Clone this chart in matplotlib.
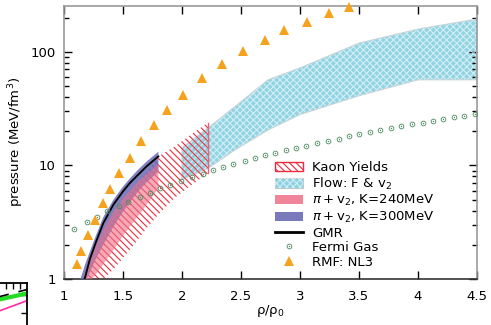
import matplotlib
matplotlib.use("Agg")
import matplotlib.pyplot as plt
from matplotlib.patches import Patch
from matplotlib.lines import Line2D

plt.rcParams['font.family'] = ['DejaVu Sans']
plt.rcParams['hatch.linewidth'] = 0.8

# ---- data -------------------------------------------------------------
# RMF: NL3
rmf_x = [1.108, 1.144, 1.203, 1.26, 1.328, 1.39, 1.469, 1.559, 1.655, 1.763,
         1.87, 2.006, 2.167, 2.342, 2.517, 2.70, 2.867, 3.059, 3.25, 3.418]
rmf_y = [1.35, 1.77, 2.44, 3.31, 4.67, 6.21, 8.64, 11.57, 16.4, 22.7,
         30.4, 41.8, 58.2, 78.0, 100.7, 126.0, 154.0, 183.0, 219.0, 250.0]

# Fermi gas
fermi_x = [1.087, 1.197, 1.282, 1.364, 1.469, 1.540, 1.644, 1.729, 1.816, 1.901,
           1.994, 2.085, 2.181, 2.260, 2.350, 2.435, 2.534, 2.619, 2.706, 2.786,
           2.881, 2.964, 3.053, 3.147, 3.237, 3.328, 3.415, 3.503, 3.593, 3.680,
           3.769, 3.853, 3.952, 4.042, 4.125, 4.215, 4.303, 4.390, 4.481]
fermi_y = [2.76, 3.18, 3.52, 3.95, 4.40, 4.80, 5.31, 5.76, 6.33, 6.78,
           7.30, 7.87, 8.47, 9.07, 9.70, 10.25, 11.0, 11.7, 12.3, 12.9,
           13.6, 14.3, 14.9, 15.7, 16.3, 17.1, 18.0, 18.8, 19.6, 20.5,
           21.3, 22.1, 23.0, 23.8, 24.7, 25.7, 26.5, 27.3, 28.3]

# Kaon yields band
kaon_x = [1.19, 1.25, 1.333, 1.42, 1.50, 1.60, 1.70, 1.80, 1.94, 2.08, 2.22]
kaon_hi = [1.0, 1.4, 2.2, 3.3, 4.6, 6.4, 8.6, 12.0, 14.7, 18.8, 23.8]
kaon_lo = [0.8, 0.9, 1.0, 1.22, 1.53, 2.05, 2.8, 3.7, 5.2, 6.7, 8.5]

# Flow: F & v2 band
flow_x = [2.0, 2.22, 2.45, 2.73, 3.0, 3.5, 4.0, 4.5]
flow_hi = [14.3, 21.3, 33.0, 56.6, 72.0, 119.0, 158.0, 194.0]
flow_lo = [7.5, 9.4, 13.7, 20.5, 28.0, 41.0, 56.6, 56.6]

# pi + v2, K=240MeV
k240_x = [1.17, 1.22, 1.27, 1.333, 1.42, 1.50, 1.56, 1.63, 1.70, 1.80]
k240_hi = [1.05, 1.45, 1.95, 2.7, 3.9, 5.1, 6.0, 7.2, 8.4, 10.3]
k240_lo = [0.8, 0.95, 1.1, 1.35, 1.8, 2.4, 2.9, 3.6, 4.5, 6.3]

# pi + v2, K=300MeV
k300_x = [1.14, 1.18, 1.22, 1.27, 1.333, 1.42, 1.50, 1.56, 1.63, 1.70, 1.80]
k300_hi = [1.0, 1.35, 1.75, 2.4, 3.5, 5.0, 6.5, 7.7, 9.2, 10.8, 13.2]
k300_lo = [0.85, 0.95, 1.15, 1.5, 2.0, 2.9, 3.9, 4.8, 5.9, 7.1, 8.8]

# GMR
gmr_x = [1.175, 1.22, 1.27, 1.333, 1.418, 1.50, 1.559, 1.63, 1.70, 1.80]
gmr_y = [1.0, 1.5, 2.1, 3.1, 4.5, 5.9, 7.0, 8.3, 9.8, 12.0]

# small neighbouring panel
side_x = [0, 10]
side_green = [1.24, 2.09]
side_magenta = [0.27, 1.69]
side_black = [1.31, 2.30]

x_ticks = [1, 1.5, 2, 2.5, 3, 3.5, 4, 4.5]
x_ticklabels = ['1', '1.5', '2', '2.5', '3', '3.5', '4', '4.5']
y_ticks = [1, 10, 100]
y_ticklabels = ['1', '10', '100']

# ---- colours ----------------------------------------------------------
c_kaon = '#ee2a3c'
c_flow = '#8ad2e2'
c_pink = '#ee7088'
c_blue = '#6a6ab4'
c_rmf = '#f5a21f'
c_fermi = '#4a8a5e'

fig = plt.figure(figsize=(4.91, 3.25), dpi=100)
ax = fig.add_axes([0.1303, 0.1415, 0.8412, 0.8415])
ax.set_yscale('log')

# kaon yields: hatched band
ax.fill_between(kaon_x, kaon_lo, kaon_hi, facecolor='none', edgecolor=c_kaon,
                hatch='\\\\\\\\\\', linewidth=0, zorder=2)
ax.plot([kaon_x[-1], kaon_x[-1]], [kaon_lo[-1], kaon_hi[-1]], color='#e8607a',
        lw=1.0, zorder=2)

# flow band
ax.fill_between(flow_x, flow_lo, flow_hi, facecolor=c_flow, edgecolor='none',
                alpha=0.95, zorder=1.5)
ax.fill_between(flow_x, flow_lo, flow_hi, facecolor='none', edgecolor='white',
                hatch='xxxxx', linewidth=0, alpha=0.6, zorder=1.6)
ax.fill_between(flow_x, flow_lo, flow_hi, facecolor='none', edgecolor='#c8d4d8',
                linewidth=0.8, zorder=1.7)

# pion + v2 bands
ax.fill_between(k300_x, k300_lo, k300_hi, facecolor=c_blue, edgecolor='none',
                alpha=0.85, zorder=3)
ax.fill_between(k240_x, k240_lo, k240_hi, facecolor=c_pink, edgecolor='none',
                alpha=0.6, zorder=3.2)

# GMR
ax.plot(gmr_x, gmr_y, color='black', lw=1.3, zorder=4)

# Fermi gas
ax.plot(fermi_x, fermi_y, ls='none', marker='o', ms=3.4, mfc='none',
        mec=c_fermi, mew=0.6, zorder=5)
ax.plot(fermi_x, fermi_y, ls='none', marker='o', ms=1.0, mfc=c_fermi,
        mec=c_fermi, mew=0, zorder=5)

# RMF NL3
ax.plot(rmf_x, rmf_y, ls='none', marker='^', ms=7, color=c_rmf, mew=0,
        zorder=5, clip_on=False)

ax.set_xlim(1, 4.5)
ax.set_ylim(1, 255)
ax.set_xticks(x_ticks)
ax.set_xticklabels(x_ticklabels)
ax.set_yticks(y_ticks)
ax.set_yticklabels(y_ticklabels)
ax.tick_params(axis='both', which='major', direction='in', length=6, width=1,
               top=True, right=True, labelsize=9.5)
ax.tick_params(axis='y', which='major', pad=6)
ax.tick_params(axis='x', which='major', pad=8)
ax.tick_params(axis='y', which='minor', direction='in', length=3.5, width=1,
               right=True, labelleft=False)
for side in ('left', 'top', 'right'):
    ax.spines[side].set_color('#999999')
ax.spines['bottom'].set_color('#333333')
for s in ax.spines.values():
    s.set_linewidth(1.2)

ax.set_xlabel('ρ/ρ$_0$', fontsize=9.5, labelpad=0)
ax.set_ylabel(r'pressure (MeV/fm$^3$)', fontsize=9.5, labelpad=3)

# legend
h_kaon = Patch(facecolor='white', edgecolor=c_kaon, hatch='\\\\\\\\\\', lw=1.0)
h_flow = (Patch(facecolor=c_flow, edgecolor='#c0c8cc', lw=0.8),
          Patch(facecolor='none', edgecolor='white', hatch='xxxxx', lw=0, alpha=0.6))
h_240 = Patch(facecolor=c_pink, edgecolor='none', alpha=0.85)
h_300 = Patch(facecolor=c_blue, edgecolor='none', alpha=0.9)
h_gmr = Line2D([], [], color='black', lw=2)
h_fermi = (Line2D([], [], ls='none', marker='o', ms=3.4, mfc='none', mec=c_fermi, mew=0.6),
           Line2D([], [], ls='none', marker='o', ms=1.0, mfc=c_fermi, mec=c_fermi, mew=0))
h_rmf = Line2D([], [], ls='none', marker='^', ms=7, color=c_rmf, mew=0)
labels = ['Kaon Yields', r'Flow: F & v$_2$', r'$\pi + $v$_2$, K=240MeV',
          r'$\pi + $v$_2$, K=300MeV', 'GMR', 'Fermi Gas', 'RMF: NL3']
leg = ax.legend([h_kaon, h_flow, h_240, h_300, h_gmr, h_fermi, h_rmf], labels,
                loc='upper left', bbox_to_anchor=(275 / 491, 1 - 161 / 325),
                bbox_transform=fig.transFigure, frameon=False, fontsize=9.5,
                borderpad=0, borderaxespad=0, handlelength=2.1, handleheight=0.75,
                handletextpad=0.7, labelspacing=0.12)

# neighbouring panel peeking in at the lower left
ax2 = fig.add_axes([-43 / 491, -0.0203, 70 / 491, (331.6 - 283.3) / 325])
ax2.set_xlim(0, 10)
ax2.set_ylim(0, 2.64)
ax2.plot(side_x, side_green, color='#22dd22', lw=3, solid_capstyle='butt')
ax2.plot(side_x, side_magenta, color='#ff2aa6', lw=1.2)
ax2.plot(side_x, side_black, color='black', lw=1.2, ls=(0, (6, 6)))
ax2.set_xticks([7, 8, 9])
ax2.set_yticks([1, 2])
ax2.tick_params(direction='in', length=4, width=1, top=True, right=True,
                bottom=False, left=False, labelbottom=False, labelleft=False)
for side in ('top', 'right'):
    ax2.spines[side].set_linewidth(1.3)

fig.savefig('out.png', dpi=100)
